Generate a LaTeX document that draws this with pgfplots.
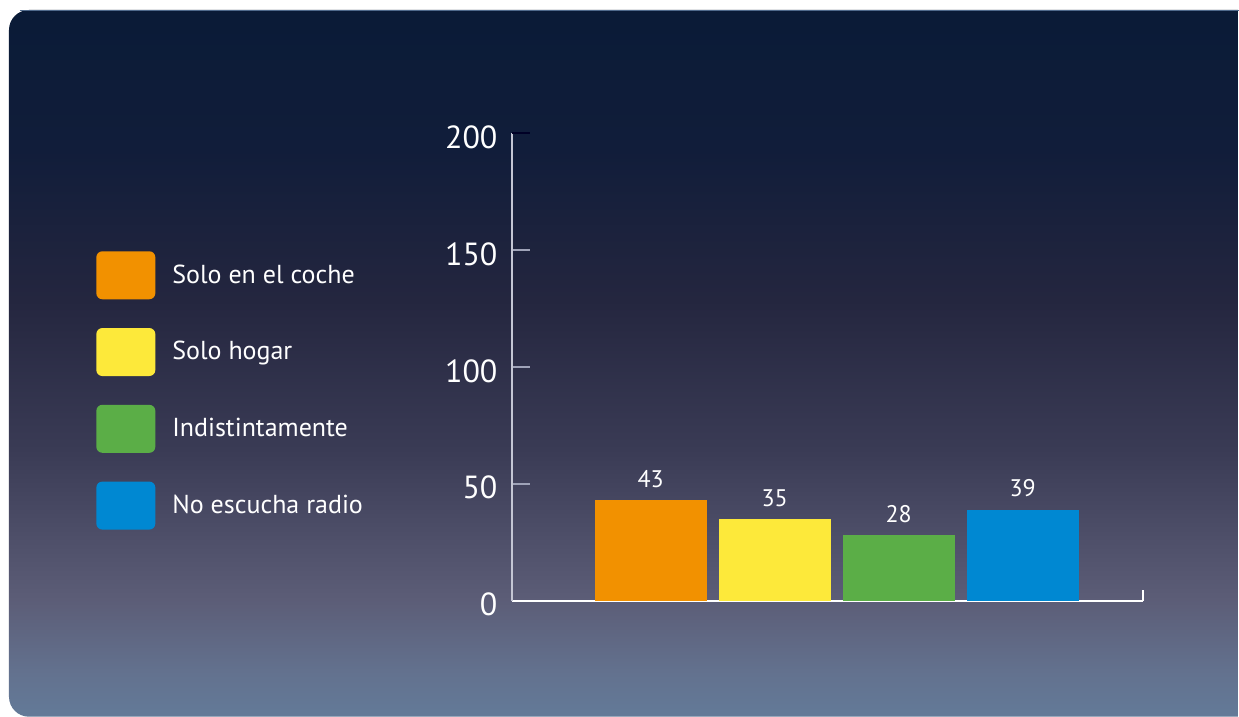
\documentclass[border=0pt]{standalone}
\usepackage{fontspec}
\setmainfont{PT Sans}
\usepackage{pgfplots}
\pgfplotsset{compat=1.18}

\definecolor{cOrange}{HTML}{F29100}
\definecolor{cYellow}{HTML}{FDE93A}
\definecolor{cGreen}{HTML}{5BAE47}
\definecolor{cBlue}{HTML}{0088D2}
\definecolor{g0}{HTML}{637A98}
\definecolor{g1}{HTML}{63728F}
\definecolor{g2}{HTML}{5C5D77}
\definecolor{g3}{HTML}{3A3B55}
\definecolor{g4}{HTML}{24263F}
\definecolor{g5}{HTML}{111D3A}
\definecolor{g6}{HTML}{0A1B37}
\definecolor{topline}{HTML}{4F6A8C}
\definecolor{ytickc}{HTML}{9FA3B8}
\definecolor{yaxisc}{HTML}{C4C6D4}

\pgfdeclareverticalshading{bgshade}{100bp}{color(0bp)=(g0); color(25bp)=(g0); color(28bp)=(g1); color(33.3bp)=(g2); color(43.9bp)=(g3); color(54.5bp)=(g4); color(65.1bp)=(g5); color(75bp)=(g6); color(100bp)=(g6)}

\begin{document}
\begin{tikzpicture}[x=0.5pt,y=0.5pt]
\fill[white] (0,0) rectangle (1239,717);
\shade[shading=bgshade] (1239,0) [rounded corners=10pt] -- (9,0) -- (9,707) [sharp corners] -- (1239,707) -- cycle;
\draw[topline, line width=0.5pt] (20,706.5) -- (1239,706.5);
\begin{axis}[
  at={(256pt,58pt)}, anchor=south west,
  scale only axis, width=315.5pt, height=234pt,
  xmin=-0.1210, xmax=4.9677, ymin=0, ymax=200,
  axis lines*=left,
  clip=false,
  ybar, bar width=0.9032, bar shift=0pt,
  legend image code/.code={\fill[#1, rounded corners=3pt] (0pt,-12pt) rectangle (29.5pt,12pt);},
  xtick=\empty,
  ytick={0,50,100,150},
  extra y ticks={200},
  extra y tick style={major tick style={draw=black!85!blue, line width=0.8pt}},
  extra x ticks={4.9677}, extra x tick labels={},
  extra x tick style={major tick length=5.5pt, major tick style={draw=white, line width=1pt}},
  tick align=inside,
  major tick length=9pt,
  major tick style={draw=ytickc, line width=0.8pt},
  x axis line style={white, line width=1pt},
  y axis line style={yaxisc, line width=1pt},
  /pgf/number format/assume math mode=true,
  yticklabel style={text=white, font=\fontsize{16}{16}\selectfont, inner sep=0pt, anchor=east, xshift=-7pt, yshift=-2pt},
  nodes near coords,
  every node near coord/.append style={text=white, font=\fontsize{12}{12}\selectfont, inner sep=0pt, anchor=center, yshift=10.5pt},
  legend cell align=left,
  legend style={draw=none, fill=none, text=white, font=\fontsize{13}{13}\selectfont,
    at={(axis description cs:-0.6593,0.7479)}, anchor=north west,
    inner sep=0pt, row sep=14.4pt, nodes={inner sep=0pt},
    /tikz/every odd column/.append style={column sep=8.5pt}},
]
\addplot[fill=cOrange, draw=none] coordinates {(1,43)};
\addlegendentry{Solo en el coche}
\addplot[fill=cYellow, draw=none] coordinates {(2,35)};
\addlegendentry{Solo hogar}
\addplot[fill=cGreen, draw=none] coordinates {(3,28)};
\addlegendentry{Indistintamente}
\addplot[fill=cBlue, draw=none] coordinates {(4,39)};
\addlegendentry{No escucha radio}
\end{axis}
\end{tikzpicture}
\end{document}
